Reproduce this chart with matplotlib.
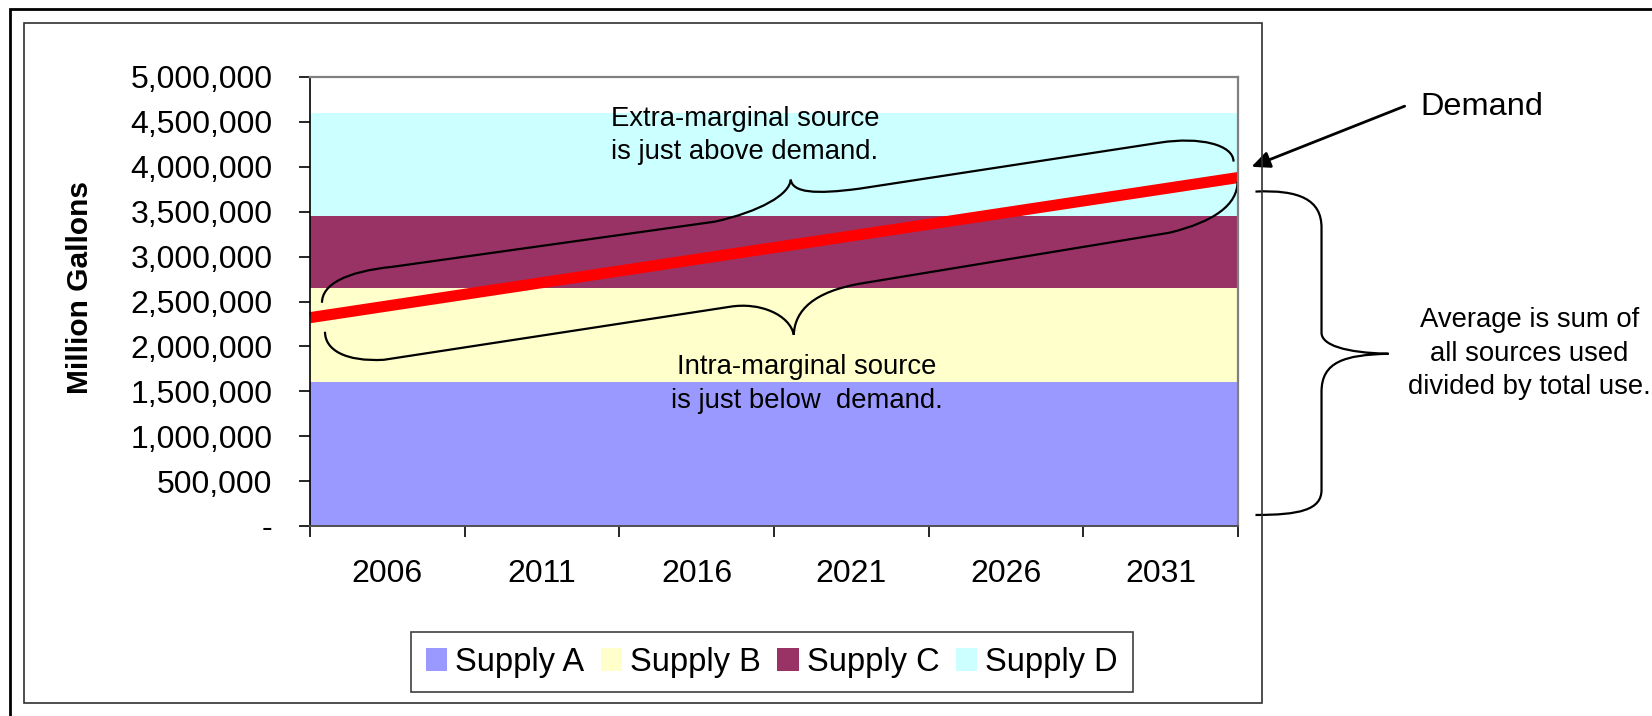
import matplotlib
matplotlib.use('Agg')
import matplotlib.pyplot as plt
from matplotlib.patches import Patch, Rectangle, PathPatch
from matplotlib.path import Path
from matplotlib.ticker import FuncFormatter
import numpy as np

plt.rcParams['font.family'] = ['Liberation Sans', 'DejaVu Sans']

# ---- data ----
years = ['2006', '2011', '2016', '2021', '2026', '2031']
# values at period boundaries (start of 2006 .. end of 2031 period)
supply_a = [1600000, 1600000, 1600000, 1600000, 1600000, 1600000, 1600000]
supply_b = [1050000, 1050000, 1050000, 1050000, 1050000, 1050000, 1050000]
supply_c = [800000, 800000, 800000, 800000, 800000, 800000, 800000]
supply_d = [1150000, 1150000, 1150000, 1150000, 1150000, 1150000, 1150000]
demand = [2320000, 2580000, 2840000, 3100000, 3360000, 3620000, 3880000]

series_names = ['Supply A', 'Supply B', 'Supply C', 'Supply D']
series_colors = ['#9999FF', '#FFFFCC', '#993366', '#CCFFFF']

W, H = 1652, 716


def brace(ax, verts, codes):
	# verts given in (category, gallons) data space
	p = Path(verts, codes)
	ax.add_patch(PathPatch(p, fill=False, lw=1.6, color='black', clip_on=False, zorder=5))


def plot_chart(out_file):
	fig = plt.figure(figsize=(W / 100, H / 100), dpi=100)
	ax = fig.add_axes([310 / W, 1 - 526 / H, 928 / W, 449 / H])

	x = np.arange(len(years) + 1)
	ax.stackplot(x, supply_a, supply_b, supply_c, supply_d,
				 colors=series_colors, linewidth=0, zorder=1)
	ax.plot(x, demand, color='#FF0000', lw=8, solid_capstyle='butt', zorder=4, clip_on=False)

	ax.set_xlim(0, len(years))
	ax.set_ylim(0, 5000000)
	ax.set_yticks(np.arange(0, 5000001, 500000))
	ax.yaxis.set_major_formatter(FuncFormatter(lambda v, p: '-' if v == 0 else f'{v:,.0f}'))
	ax.tick_params(axis='y', length=8, width=1.2, pad=19, labelsize=23, color='black')

	ax.set_xticks(x)
	ax.set_xticklabels([''] * len(x))
	ax.set_xticks(x[:-1] + 0.5, minor=True)
	ax.set_xticklabels(years, minor=True)
	ax.tick_params(axis='x', which='major', length=8, width=1.2, color='black')
	ax.tick_params(axis='x', which='minor', length=0, pad=24, labelsize=23)

	for side in ['top', 'right']:
		ax.spines[side].set_color('#808080')
		ax.spines[side].set_linewidth(1.6)
	ax.spines['left'].set_color('black')
	ax.spines['left'].set_linewidth(1.2)
	ax.spines['bottom'].set_color('#505050')
	ax.spines['bottom'].set_linewidth(1.4)
	for s in ax.spines.values():
		s.set_zorder(6)

	fig.text(80 / W, 1 - 288 / H, 'Million Gallons', rotation=90, fontsize=21.5,
			 fontweight='bold', ha='center', va='center')

	# annotations
	ax.text(2.811, 4.35e6, 'Extra-marginal source\nis just above demand.', ha='center',
			va='center', fontsize=19.8, linespacing=1.38, zorder=7)
	ax.text(3.212, 1.58e6, 'Intra-marginal source\nis just below  demand.', ha='center',
			va='center', fontsize=19.8, linespacing=1.38, zorder=7)
	ax.text(7.884, 1.918e6, 'Average is sum of\nall sources used\ndivided by total use.',
			ha='center', va='center', fontsize=19.8, linespacing=1.38)

	ax.annotate('Demand', xy=(6.087, 4.0e6), xytext=(7.179, 4.671e6),
				ha='left', va='center', fontsize=23.4, annotation_clip=False,
				arrowprops=dict(arrowstyle='-|>,head_length=0.55,head_width=0.25',
								color='black', lw=2, shrinkA=10, shrinkB=0,
								relpos=(0, 0.72), mutation_scale=20))

	M, L, C = Path.MOVETO, Path.LINETO, Path.CURVE4
	# brace above demand
	brace(ax, [(0.0775, 2.486e6), (0.0775, 2.687e6), (0.226, 2.832e6), (0.536, 2.887e6),
			   (2.617, 3.389e6),
			   (2.908, 3.501e6), (3.102, 3.690e6), (3.108, 3.857e6),
			   (3.121, 3.712e6), (3.263, 3.690e6), (3.554, 3.757e6),
			   (5.499, 4.270e6),
			   (5.751, 4.337e6), (5.971, 4.247e6), (5.971, 4.058e6)],
		  [M, C, C, C, L, C, C, C, C, C, C, L, C, C, C])
	# brace below demand
	brace(ax, [(0.097, 2.163e6), (0.097, 1.962e6), (0.226, 1.828e6), (0.478, 1.851e6),
			   (2.714, 2.441e6),
			   (2.908, 2.497e6), (3.102, 2.352e6), (3.128, 2.129e6),
			   (3.134, 2.408e6), (3.263, 2.609e6), (3.554, 2.698e6),
			   (5.557, 3.266e6),
			   (5.848, 3.389e6), (5.997, 3.579e6), (5.997, 3.835e6)],
		  [M, C, C, C, L, C, C, C, C, C, C, L, C, C, C])
	# brace for average
	brace(ax, [(6.113, 3.724e6), (6.397, 3.746e6), (6.540, 3.634e6), (6.540, 3.322e6),
			   (6.540, 2.152e6),
			   (6.540, 2.018e6), (6.688, 1.929e6), (6.973, 1.918e6),
			   (6.688, 1.906e6), (6.540, 1.828e6), (6.540, 1.494e6),
			   (6.540, 0.401e6),
			   (6.540, 0.178e6), (6.397, 0.123e6), (6.113, 0.123e6)],
		  [M, C, C, C, L, C, C, C, C, C, C, L, C, C, C])

	handles = [Patch(facecolor=c, edgecolor='none', label=n) for n, c in zip(series_names, series_colors)]
	leg = fig.legend(handles=handles, loc='center', bbox_to_anchor=(772 / W, 1 - 662 / H),
					 ncol=4, fontsize=23.5, frameon=True, fancybox=False, edgecolor='#404040',
					 framealpha=1, handlelength=0.65, handleheight=0.7, handletextpad=0.25,
					 columnspacing=0.5, borderpad=0.45, borderaxespad=0)
	leg.get_frame().set_linewidth(1.2)

	# chart frames
	fig.add_artist(Rectangle((10 / W, -0.2), 1.2, 1.2 - 8.5 / H, transform=fig.transFigure,
							 fill=False, lw=2, edgecolor='black'))
	fig.add_artist(Rectangle((24 / W, 13 / H), 1238 / W, 680 / H, transform=fig.transFigure,
							 fill=False, lw=1.2, edgecolor='#303030'))

	fig.savefig(out_file, dpi=100)


def main():
	plot_chart('out.png')


if __name__ == '__main__':
	main()
